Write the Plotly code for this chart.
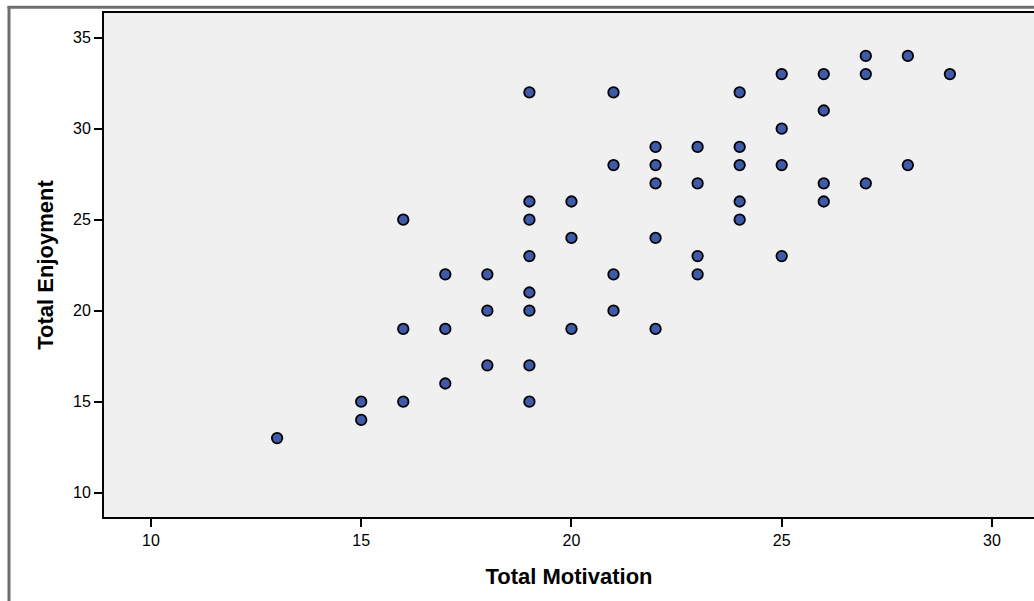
import plotly.graph_objects as go

# Data (Total Motivation vs Total Enjoyment)
motivation = [13,
              15, 15,
              16, 16, 16,
              17, 17, 17,
              18, 18, 18,
              19, 19, 19, 19, 19, 19, 19, 19,
              20, 20, 20,
              21, 21, 21, 21,
              22, 22, 22, 22, 22,
              23, 23, 23, 23,
              24, 24, 24, 24, 24,
              25, 25, 25, 25,
              26, 26, 26, 26,
              27, 27, 27,
              28, 28,
              29]
enjoyment = [13,
             15, 14,
             25, 19, 15,
             22, 19, 16,
             22, 20, 17,
             32, 26, 25, 23, 21, 20, 17, 15,
             26, 24, 19,
             32, 28, 22, 20,
             29, 28, 27, 24, 19,
             29, 27, 23, 22,
             32, 29, 28, 26, 25,
             33, 30, 28, 23,
             33, 31, 27, 26,
             34, 33, 27,
             34, 28,
             33]

x_ticks = [10, 15, 20, 25, 30]
y_ticks = [10, 15, 20, 25, 30, 35]

fig = go.Figure()
fig.add_trace(go.Scatter(
    x=motivation, y=enjoyment, mode="markers",
    marker=dict(size=10.5, color="#3e5aa9", line=dict(color="black", width=1.8)),
    showlegend=False, hoverinfo="x+y",
))

W, H = 1034, 601
ml, mt, mb, mr = 104, 13, 84, 0
pw, ph = W - ml - mr, H - mt - mb

def px_x(p):
    return (p - ml) / pw

def px_y(p):
    return (H - mb - p) / ph

frame_col = "#6e6e6e"
shapes = [
    dict(type="line", xref="paper", yref="paper",
         x0=px_x(7.5), x1=1.01, y0=px_y(7.3), y1=px_y(7.3),
         line=dict(color=frame_col, width=3)),
    dict(type="line", xref="paper", yref="paper",
         x0=px_x(9), x1=px_x(9), y0=px_y(6), y1=px_y(610),
         line=dict(color=frame_col, width=3)),
]

font_family = "Liberation Sans, Arial, sans-serif"

fig.update_layout(
    width=W, height=H,
    margin=dict(l=ml, r=mr, t=mt, b=mb, pad=0),
    paper_bgcolor="white",
    plot_bgcolor="#f0f0f0",
    font=dict(family=font_family, color="black", size=16),
    shapes=shapes,
    xaxis=dict(
        range=[8.883, 31.0], tickvals=x_ticks, ticktext=[str(v) for v in x_ticks],
        showgrid=False, zeroline=False,
        showline=True, linecolor="black", linewidth=2, mirror=True,
        ticks="outside", ticklen=8, tickwidth=2, tickcolor="black",
        tickfont=dict(size=16, family=font_family),
        title=dict(text="<b>Total Motivation</b>", font=dict(size=22, family=font_family),
                   standoff=20),
    ),
    yaxis=dict(
        range=[8.665, 36.357], tickvals=y_ticks, ticktext=[str(v) for v in y_ticks],
        showgrid=False, zeroline=False,
        showline=True, linecolor="black", linewidth=2,
        ticks="outside", ticklen=8, tickwidth=2, tickcolor="black",
        tickfont=dict(size=16, family=font_family),
        title=dict(text="<b>Total Enjoyment</b>", font=dict(size=22, family=font_family),
                   standoff=13),
    ),
)

fig.write_html("out.html")
